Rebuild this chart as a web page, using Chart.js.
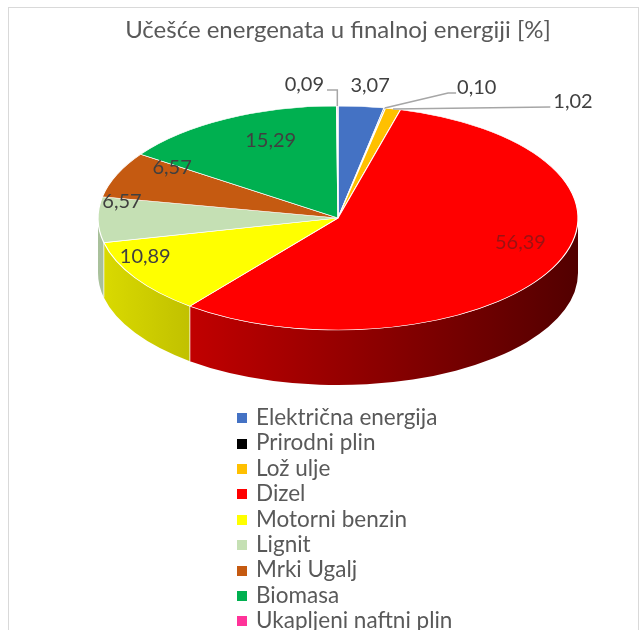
<!DOCTYPE html>
<html>
<head>
<meta charset="utf-8">
<script src="https://cdn.jsdelivr.net/npm/chart.js@4.4.1/dist/chart.umd.min.js"></script>
<style>
  html, body { margin: 0; padding: 0; background: #fff; }
  body { width: 644px; height: 630px; position: relative; overflow: hidden; font-family: Lato, 'Open Sans', sans-serif; }
  #frame { position: absolute; left: 8px; top: 7px; width: 629px; height: 700px; border: 1px solid #d9d9d9; }
  #chart { position: absolute; left: 0; top: 0; }
  #legend { position: absolute; left: 237px; top: 404px; margin: 0; padding: 0; list-style: none; }
  #legend li { height: 25.4px; line-height: 25.4px; font-size: 22.5px; color: #595959; white-space: nowrap; }
  #legend span { display: inline-block; width: 10px; height: 10px; margin-right: 9px; vertical-align: middle; position: relative; top: -1px; }
</style>
</head>
<body>
<div id="frame"></div>
<canvas id="chart" width="644" height="630"></canvas>
<ul id="legend"></ul>
<script>
// podaci
const labels = ['Električna energija', 'Prirodni plin', 'Lož ulje', 'Dizel', 'Motorni benzin', 'Lignit', 'Mrki Ugalj', 'Biomasa', 'Ukapljeni naftni plin'];
const shares = [3.07, 0.10, 1.02, 56.39, 10.89, 6.57, 6.57, 15.29, 0.09];
const colors = ['#4472c4', '#000000', '#ffc000', '#ff0000', '#ffff00', '#c5e0b4', '#c55a11', '#00b050', '#ff3399'];

// izgled 3D pite
const CX = 338, CY = 218, TILT = 0.467, DEPTH = 55, LIFT = 18;

// gdje ide koja oznaka (r = unutra, dx/dy = izvan, s linijom)
const labelSpots = [
    { dx: 9, dy: -21, line: 'none' },
    { dx: 92, dy: -21, line: 'slant' },
    { dx: 180, dy: -7, line: 'flat' },
    { r: 0.85 },
    { r: 0.95 },
    { r: 0.9 },
    { r: 0.75 },
    { r: 0.6 },
    { dx: -33, dy: -21, line: 'elbow' }
];

function shade(hex, f) {
    const n = parseInt(hex.slice(1), 16);
    const r = (n >> 16) & 255, g = (n >> 8) & 255, b = n & 255;
    return `rgb(${Math.round(r * f)},${Math.round(g * f)},${Math.round(b * f)})`;
}

// Plugin: bocna strana + spljostavanje + oznake
const pie3d = {
    id: 'pie3d',
    beforeDatasetsDraw(chart) {
        const ctx = chart.ctx;
        const arcs = chart.getDatasetMeta(0).data;
        ctx.save();
        arcs.forEach((arc, i) => {
            const R = arc.outerRadius;
            const a0 = Math.max(arc.startAngle, 0);
            const a1 = Math.min(arc.endAngle, Math.PI);
            if (a1 <= a0) return;
            const grad = ctx.createLinearGradient(CX - R, 0, CX + R, 0);
            grad.addColorStop(0, shade(colors[i], 0.86));
            grad.addColorStop(1, shade(colors[i], 0.32));
            ctx.beginPath();
            ctx.ellipse(CX, CY, R, R * TILT, 0, a0, a1);
            ctx.ellipse(CX, CY + DEPTH, R, R * TILT, 0, a1, a0, true);
            ctx.closePath();
            ctx.fillStyle = grad;
            ctx.fill();
            if (arc.startAngle > 0 && arc.startAngle < Math.PI) {
                const x = CX + Math.cos(arc.startAngle) * R;
                const y = CY + Math.sin(arc.startAngle) * R * TILT;
                ctx.beginPath();
                ctx.moveTo(x, y);
                ctx.lineTo(x, y + DEPTH);
                ctx.strokeStyle = 'rgba(255,255,255,0.75)';
                ctx.lineWidth = 1;
                ctx.stroke();
            }
        });
        ctx.restore();

        const c = arcs[0];
        ctx.save();
        ctx.translate(CX, CY);
        ctx.scale(1, TILT);
        ctx.translate(-c.x, -c.y);
    },
    afterDatasetsDraw(chart) {
        const ctx = chart.ctx;
        ctx.restore();
        const arcs = chart.getDatasetMeta(0).data;
        ctx.save();
        ctx.font = '20px Lato';
        ctx.textAlign = 'center';
        ctx.textBaseline = 'middle';
        arcs.forEach((arc, i) => {
            const spot = labelSpots[i];
            const mid = (arc.startAngle + arc.endAngle) / 2;
            const R = arc.outerRadius;
            const text = shares[i].toFixed(2).replace('.', ',');
            if (spot.r) {
                const x = CX + Math.cos(mid) * R * spot.r;
                const y = CY - LIFT + Math.sin(mid) * R * TILT * spot.r;
                ctx.fillStyle = i === 3 ? 'rgba(90,30,30,0.6)' : '#404040';
                ctx.fillText(text, x, y);
                return;
            }
            const ex = CX + Math.cos(mid) * R;
            const ey = CY + Math.sin(mid) * R * TILT;
            const lx = ex + spot.dx, ly = ey + spot.dy;
            const w = ctx.measureText(text).width;
            ctx.fillStyle = '#404040';
            ctx.fillText(text, lx, ly);
            ctx.strokeStyle = '#a6a6a6';
            ctx.lineWidth = 1.5;
            ctx.beginPath();
            if (spot.line === 'slant') {
                ctx.moveTo(ex, ey);
                ctx.lineTo(lx - w / 2 - 9, ly + 6);
                ctx.lineTo(lx - w / 2 - 1, ly + 6);
            } else if (spot.line === 'flat') {
                ctx.moveTo(ex, ey);
                ctx.lineTo(lx - w / 2 - 3, ly + 5);
            } else if (spot.line === 'elbow') {
                ctx.moveTo(lx + w / 2 + 3, ly + 5);
                ctx.lineTo(ex, ly + 5);
                ctx.lineTo(ex, ey);
            }
            ctx.stroke();
        });
        ctx.restore();
    }
};

new Chart(document.getElementById('chart').getContext('2d'), {
    type: 'pie',
    data: {
        labels: labels,
        datasets: [{
            data: shares,
            backgroundColor: colors,
            borderColor: '#ffffff',
            borderWidth: 1.2,
            radius: 240,
            clip: false
        }]
    },
    options: {
        responsive: false,
        animation: false,
        events: [],
        layout: { padding: { left: 32 } },
        plugins: {
            legend: { display: false },
            tooltip: { enabled: false },
            title: {
                display: true,
                text: 'Učešće energenata u finalnoj energiji [%]',
                color: '#595959',
                font: { family: 'Lato', size: 24, weight: 'normal' },
                padding: { top: 16, bottom: 10 }
            }
        }
    },
    plugins: [pie3d]
});

// legenda
const legend = document.getElementById('legend');
labels.forEach((name, i) => {
    const li = document.createElement('li');
    li.innerHTML = `<span style="background:${colors[i]}"></span>${name}`;
    legend.appendChild(li);
});
</script>
</body>
</html>
